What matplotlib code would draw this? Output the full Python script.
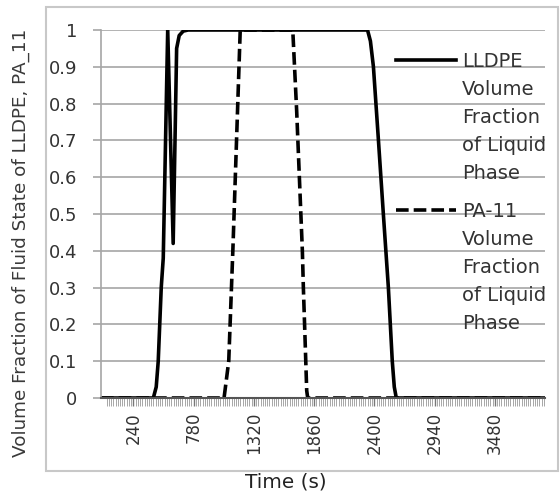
import matplotlib
matplotlib.use("Agg")
import matplotlib.pyplot as plt
from matplotlib.patches import Rectangle
from matplotlib.lines import Line2D
import numpy as np

# ---- data ----
lldpe_t = [-50, 419, 445, 463, 490, 508, 548, 597, 628, 651, 687, 731,
           2339, 2365, 2392, 2437, 2481, 2526, 2561, 2579, 2597, 3930]
lldpe_v = [0, 0, 0.03, 0.1, 0.3, 0.38, 1.0, 0.42, 0.95, 0.985, 0.997, 1.0,
           1.0, 0.97, 0.9, 0.7, 0.5, 0.3, 0.1, 0.03, 0, 0]
pa11_t = [-50, 1053, 1095, 1133, 1198, 1669, 1704, 1755, 1764, 1776, 1794, 1803, 3930]
pa11_v = [0, 0, 0.1, 0.41, 1.0, 1.0, 0.78, 0.4, 0.3, 0.19, 0.02, 0, 0]
xtick_labels = [240, 780, 1320, 1860, 2400, 2940, 3480]
yticks = [0, 0.1, 0.2, 0.3, 0.4, 0.5, 0.6, 0.7, 0.8, 0.9, 1]
legend_labels = ["LLDPE\nVolume\nFraction\nof Liquid\nPhase",
                 "PA-11\nVolume\nFraction\nof Liquid\nPhase"]

W, H = 560, 495
fig = plt.figure(figsize=(W / 100, H / 100), dpi=100)
ax = fig.add_axes([101 / W, 1 - 398 / H, (545 - 101) / W, 368 / H])

ax.plot(lldpe_t, lldpe_v, color="black", lw=2.6, solid_capstyle="butt")
ax.plot(pa11_t, pa11_v, color="black", lw=2.6, dashes=(3.5, 1.4))

ax.set_xlim(-50, 3930)
ax.set_ylim(0, 1)
ax.set_yticks(yticks)
ax.set_yticklabels(["0", "0.1", "0.2", "0.3", "0.4", "0.5", "0.6", "0.7", "0.8", "0.9", "1"])
ax.set_xticks(xtick_labels)
ax.set_xticklabels([str(v) for v in xtick_labels], rotation=90)
ax.set_xticks(np.arange(0, 3921, 20), minor=True)

ax.grid(axis="y", color="#a6a6a6", lw=1.2)
ax.set_axisbelow(True)
for s in ["top", "right"]:
    ax.spines[s].set_visible(False)
ax.spines["left"].set_color("#a6a6a6")
ax.spines["left"].set_linewidth(1.2)
ax.spines["bottom"].set_color("#555555")
ax.spines["bottom"].set_linewidth(1.5)

ax.tick_params(axis="y", length=6, width=1.2, color="#a6a6a6", pad=11,
               labelsize=13, labelcolor="#333333")
ax.tick_params(axis="x", which="major", length=6, width=1.0, color="#777777",
               pad=4, labelsize=12, labelcolor="#333333")
ax.tick_params(axis="x", which="minor", length=6, width=0.6, color="#999999")

# legend (no frame, handle aligned with the first text line)
for i, (lab, dash) in enumerate(zip(legend_labels, [None, (3.5, 1.4)])):
    yc = 1 - (60 + 150 * i) / H
    ln = Line2D([396 / W, 456 / W], [yc, yc], transform=fig.transFigure,
                color="black", lw=2.6)
    if dash:
        ln.set_dashes(dash)
    fig.add_artist(ln)
    fig.text(462 / W, yc + 8 / H, lab, fontsize=14, va="top", ha="left",
             color="#333333", linespacing=1.6)

fig.text(21 / W, 1 - 243 / H, "Volume Fraction of Fluid State of LLDPE, PA_11",
         rotation=90, fontsize=13.2, color="#3a3a3a", ha="center", va="center")
fig.text(286 / W, 1 - 482 / H, "Time (s)", fontsize=14.4, color="#222222",
         ha="center", va="center")

fig.add_artist(Rectangle((46 / W, 1 - 471 / H), (558 - 46) / W, (471 - 7) / H,
                         transform=fig.transFigure, fill=False,
                         edgecolor="#c8c8c8", lw=1.5))

fig.savefig("out.png", dpi=100)
